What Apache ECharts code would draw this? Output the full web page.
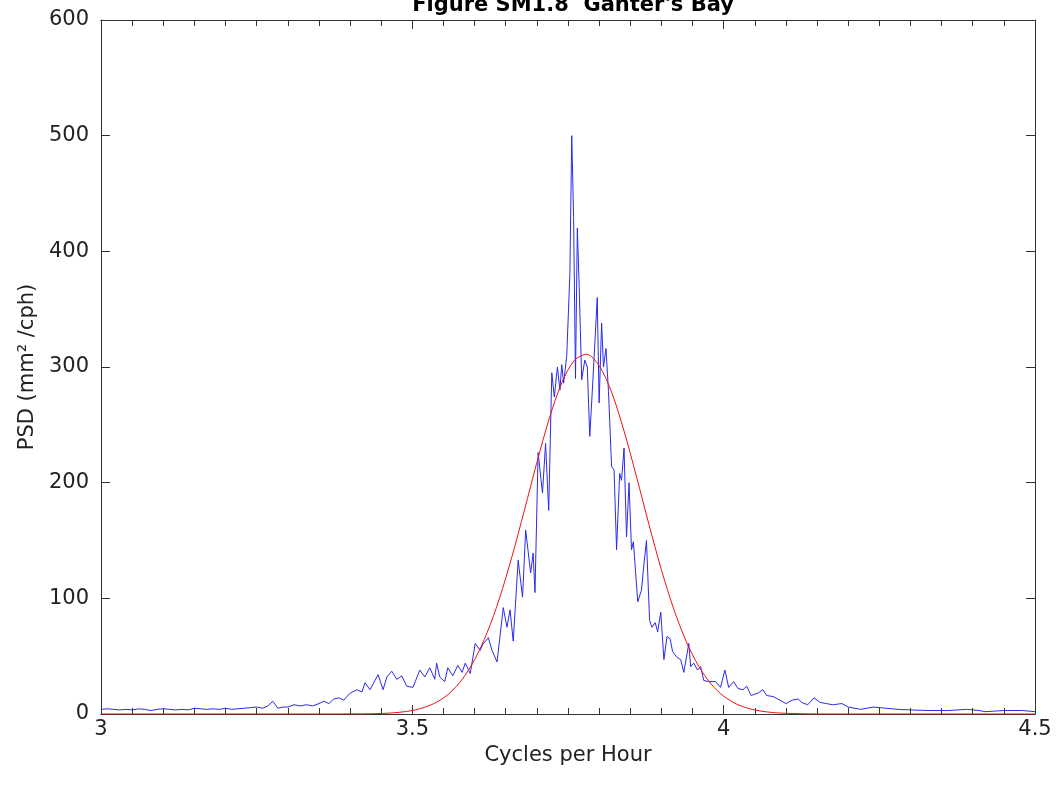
<!DOCTYPE html>
<html>
<head>
<meta charset="utf-8">
<script src="https://cdn.jsdelivr.net/npm/echarts@6/dist/echarts.min.js"></script>
<style>html,body{margin:0;padding:0;background:#fff}#c{width:1057px;height:788px}</style>
</head>
<body>
<div id="c"></div>
<script>
// Measured spectrum (blue)
var freq = [3.000,3.010,3.020,3.030,3.040,3.050,3.060,3.070,3.080,3.090,3.100,3.110,3.120,3.130,3.140,3.150,3.160,3.170,3.180,3.190,3.200,3.210,3.220,3.230,3.240,3.250,3.260,3.268,3.276,3.284,3.292,3.300,3.310,3.320,3.330,3.340,3.350,3.358,3.366,3.374,3.382,3.390,3.400,3.411,3.419,3.424,3.432,3.440,3.445,3.453,3.459,3.467,3.475,3.483,3.491,3.501,3.512,3.520,3.528,3.536,3.539,3.544,3.552,3.557,3.565,3.573,3.580,3.585,3.593,3.601,3.609,3.613,3.622,3.628,3.636,3.641,3.646,3.652,3.657,3.662,3.670,3.677,3.682,3.690,3.694,3.697,3.702,3.709,3.714,3.719,3.724,3.728,3.733,3.737,3.740,3.743,3.748,3.753,3.756,3.759,3.762,3.765,3.768,3.772,3.777,3.781,3.785,3.790,3.797,3.800,3.804,3.807,3.811,3.815,3.820,3.824,3.828,3.833,3.836,3.840,3.844,3.848,3.852,3.855,3.862,3.868,3.872,3.876,3.881,3.885,3.890,3.894,3.899,3.904,3.909,3.914,3.918,3.925,3.931,3.936,3.944,3.947,3.952,3.958,3.963,3.968,3.976,3.987,3.995,4.002,4.008,4.016,4.023,4.031,4.037,4.044,4.055,4.063,4.069,4.080,4.090,4.100,4.110,4.120,4.125,4.135,4.145,4.155,4.165,4.175,4.190,4.200,4.220,4.240,4.260,4.280,4.300,4.330,4.360,4.390,4.410,4.420,4.450,4.480,4.500];
var psd = [4,4.5,4,3.5,4,3.5,4.5,4,3,4,4.5,4,3.5,4,3.5,5,4.5,4,4.5,4,5,4,4.5,5,5.5,6,5,7,11,5,6,6,8,7,8,7,9,11,9,13,14,12,18,21,19,27,21,29,34,21,32,37,30,33,24,23,38,32,40,30,44,32,28,40,33,42,36,44,35,61,55,60,66,55,45,68,92,75,90,63,133,101,159,122,139,105,226,191,234,176,295,274,300,280,302,286,310,380,500,430,290,420,369,289,306,300,240,289,360,269,338,300,316,279,214,211,142,208,202,230,153,200,142,149,97,107,130,150,81,75,79,71,88,47,67,65,54,49,47,36,61,41,44,38,41,29,28,28,23,38,23,28,22,21,24,16,18,21,16,15,12,9,12,13,10,8,14,10,9,8,9,6,4,6,5,4,3.5,3,3,4,3,2,3,3,2];
// Fitted curve (red)
var fitFreq = [3.00,3.38,3.40,3.42,3.44,3.46,3.48,3.50,3.52,3.54,3.56,3.58,3.60,3.62,3.64,3.66,3.68,3.70,3.72,3.74,3.76,3.78,3.80,3.82,3.84,3.86,3.88,3.90,3.92,3.94,3.96,3.98,4.00,4.02,4.04,4.06,4.08,4.10,4.12,4.14,4.16,4.50];
var fitPsd = [0,0,0.1,0.1,0.3,0.7,1.5,3.0,5.8,10.5,18.1,29.9,46.9,70.2,100.1,136.1,176.2,217.4,255.6,286.3,305.6,311.0,301.2,278.2,244.7,205.2,163.9,124.7,90.5,62.5,41.2,25.8,15.4,8.8,4.8,2.5,1.2,0.6,0.3,0.1,0,0];
var xTicks = ['3','3.5','4','4.5'];
var yTicks = ['0','100','200','300','400','500','600'];

function pairs(a,b){var r=[];for(var i=0;i<a.length;i++)r.push([a[i],b[i]]);return r;}
var FONT='DejaVu Sans';
var axisCol='#333';
var chart = echarts.init(document.getElementById('c'),null,{renderer:'canvas'});
var xBase = {type:'value',min:3,max:4.5,interval:0.5,gridIndex:0,
  axisLine:{onZero:false,lineStyle:{color:axisCol,width:1}},
  axisTick:{inside:true,length:9,lineStyle:{color:axisCol}},
  splitLine:{show:false}};
var xMinor = {type:'value',min:3,max:4.5,interval:0.05,gridIndex:1,
  axisLine:{show:true,onZero:false,lineStyle:{color:axisCol,width:1}},
  axisTick:{show:true,inside:true,length:6,lineStyle:{color:axisCol,width:1}},
  axisLabel:{show:false},splitLine:{show:false}};
var yBase = {type:'value',min:0,max:600,interval:100,gridIndex:0,
  axisLine:{show:true,onZero:false,lineStyle:{color:axisCol,width:1}},
  axisTick:{show:true,inside:true,length:9,lineStyle:{color:axisCol}},
  splitLine:{show:false}};
var gridRect = {left:101,right:22,top:20,bottom:74,containLabel:false};
chart.setOption({
  animation:false,
  backgroundColor:'#fff',
  title:{text:"Figure SM1.8  Ganter's Bay",left:568,top:-10,textAlign:'center',
    textStyle:{fontFamily:FONT,fontSize:21,fontWeight:'bold',color:'#000'}},
  grid:[Object.assign({},gridRect),Object.assign({},gridRect)],
  xAxis:[
    Object.assign({},xBase,{position:'bottom',name:'Cycles per Hour',nameLocation:'middle',nameGap:23,
      nameTextStyle:{fontFamily:FONT,fontSize:21,color:'#222'},
      axisLabel:{margin:5,fontFamily:FONT,fontSize:21,color:'#222',
        formatter:function(v){var i=Math.round((v-3)/0.5);return xTicks[i]!==undefined?xTicks[i]:'';}}}),
    Object.assign({},xBase,{position:'top',axisLabel:{show:false}}),
    Object.assign({},xMinor,{position:'bottom'}),
    Object.assign({},xMinor,{position:'top'})
  ],
  yAxis:[
    Object.assign({},yBase,{position:'left',name:'PSD (mm² /cph)',nameLocation:'middle',nameGap:54,
      nameTextStyle:{fontFamily:FONT,fontSize:21,color:'#222'},
      axisLabel:{margin:12,fontFamily:FONT,fontSize:21,color:'#222',
        formatter:function(v){return yTicks[Math.round(v/100)];}}}),
    Object.assign({},yBase,{position:'right',axisLabel:{show:false}}),
    {type:'value',min:0,max:600,gridIndex:1,show:false}
  ],
  series:[
    {type:'line',data:pairs(freq,psd),showSymbol:false,symbol:'none',xAxisIndex:0,yAxisIndex:0,
      lineStyle:{color:'#2a2aee',width:1},z:2},
    {type:'line',data:pairs(fitFreq,fitPsd),showSymbol:false,symbol:'none',smooth:0.3,xAxisIndex:0,yAxisIndex:0,
      lineStyle:{color:'#ee1111',width:1},z:3}
  ]
});
</script>
</body>
</html>
